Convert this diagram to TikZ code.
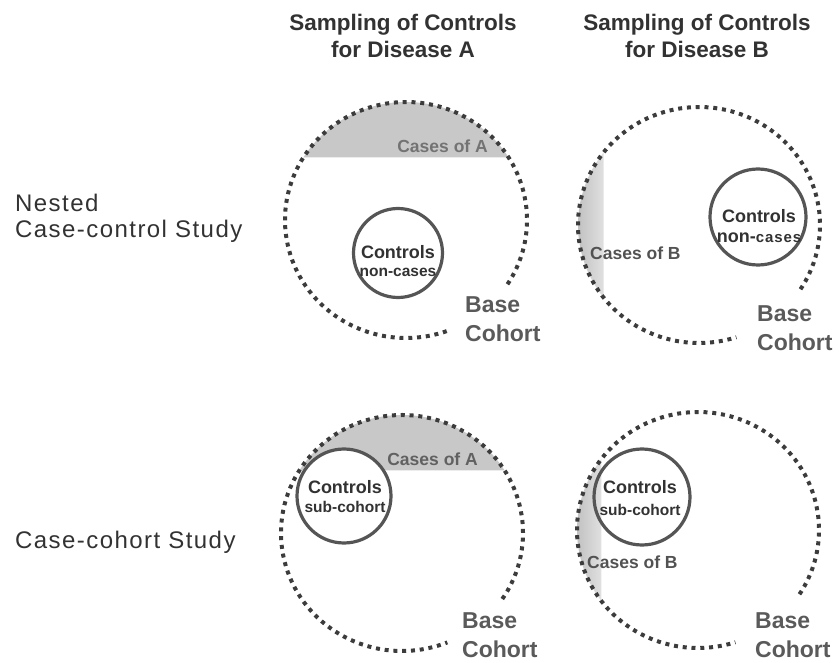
\documentclass[tikz,border=0pt]{standalone}
\usepackage{fontspec}
\setmainfont{Liberation Sans}
\usetikzlibrary{positioning}
\definecolor{inkgray}{RGB}{50, 50, 50}
\definecolor{dotgray}{RGB}{60, 60, 60}
\definecolor{ringgray}{RGB}{85, 85, 85}
\definecolor{basegray}{RGB}{90, 90, 90}
\definecolor{shadegray}{RGB}{200, 200, 200}

\begin{document}
\begin{tikzpicture}[x=1pt, y=1pt,
    header/.style={font=\bfseries\fontsize{22.5}{27}\selectfont, align=center,
                   text=inkgray, anchor=base, inner sep=0pt},
    rowlabel/.style={font=\fontsize{24}{26}\selectfont\addfontfeatures{LetterSpace=6},
                     align=left, text=inkgray, anchor=base west, inner sep=0pt},
    cohort/.style={draw=dotgray, line width=4pt, dash pattern=on 4pt off 4.8pt},
    caseshade/.style={fill=shadegray},
    ctrl/.style={draw=ringgray, line width=3.2pt, circle, inner sep=0pt, fill=white},
    ctrltext/.style={font=\bfseries\fontsize{18}{18}\selectfont, align=center,
                     text=inkgray, anchor=base, inner sep=0pt},
    casetext/.style={font=\bfseries\fontsize{17.5}{20}\selectfont, inner sep=0pt},
    basetext/.style={font=\bfseries\fontsize{23}{29}\selectfont, align=left,
                     text=basegray, anchor=base west, inner sep=0pt},
]
    \useasboundingbox (0,0) rectangle (839,-663);

    % centres of the base cohorts
    \coordinate (cA) at (406,-220);
    \coordinate (cB) at (699,-225);
    \coordinate (cC) at (402,-533);
    \coordinate (cD) at (698,-530);

    % column and row titles
    \node[header] (hA) at (403,-58) {Sampling of Controls\\for Disease A};
    \node[header] (hB) at (697,-58) {Sampling of Controls\\for Disease B};
    \node[rowlabel] (nested) at (15,-238) {Nested\\Case-control Study};
    \node[rowlabel] (cohortstudy) at (15,-548) {Case-cohort Study};

    % nested, disease A
    \fill[caseshade] ([shift={(32:121 and 118)}]cA)
        arc[start angle=32, end angle=148, x radius=121, y radius=118] -- cycle;
    \draw[cohort] ([shift={(-33:121 and 118)}]cA)
        arc[start angle=-33, end angle=290, x radius=121, y radius=118];
    \node[ctrl, minimum size=89pt] (ctrlA) at (398,-253) {};
    \node[ctrltext] (ctrlAtxt) at (398,-277) {Controls\\{\fontsize{15.5}{18}\selectfont non-cases}};
    \node[casetext, text=black!55, anchor=base east] (casesA) at (488,-153) {Cases of A};
    \node[basetext] (baseA) at (465,-342) {Base\\Cohort};

    % nested, disease B
    \shade[left color=black!28, right color=black!12] ([shift={(142:121 and 118)}]cB)
        arc[start angle=142, end angle=218, x radius=121, y radius=118] -- cycle;
    \draw[cohort] ([shift={(-33:121 and 118)}]cB)
        arc[start angle=-33, end angle=288, x radius=121, y radius=118];
    \node[ctrl, minimum size=96pt] (ctrlB) at (758,-217) {};
    \node[ctrltext] (ctrlBtxt) at (759,-243)
        {Controls\\[2pt]{\fontsize{18}{18}\selectfont non-}{\fontsize{15}{18}\selectfont\addfontfeatures{LetterSpace=6}cases}};
    \node[casetext, text=black!68, anchor=base west] (casesB) at (590,-260) {Cases of B};
    \node[basetext] (baseB) at (757,-351) {Base\\Cohort};

    % case-cohort, disease A
    \fill[caseshade] ([shift={(32:121 and 118)}]cC)
        arc[start angle=32, end angle=148, x radius=121, y radius=118] -- cycle;
    \draw[cohort] ([shift={(-34:121 and 118)}]cC)
        arc[start angle=-34, end angle=292, x radius=121, y radius=118];
    \node[ctrl, minimum size=94pt] (ctrlC) at (344,-496) {};
    \node[ctrltext] (ctrlCtxt) at (345,-512) {Controls\\[1pt]{\fontsize{15.5}{19}\selectfont sub-cohort}};
    \node[casetext, text=black!62, anchor=base east] (casesC) at (478,-465) {Cases of A};
    \node[basetext] (baseC) at (462,-657) {Base\\Cohort};

    % case-cohort, disease B
    \shade[left color=black!28, right color=black!12] ([shift={(143:121 and 118)}]cD)
        arc[start angle=143, end angle=217, x radius=121, y radius=118] -- cycle;
    \draw[cohort] ([shift={(-33:121 and 118)}]cD)
        arc[start angle=-33, end angle=288, x radius=121, y radius=118];
    \node[ctrl, minimum size=96pt, fill=none] (ctrlD) at (642,-497) {};
    \node[ctrltext] (ctrlDtxt) at (640,-515) {Controls\\[4pt]{\fontsize{15.5}{20}\selectfont sub-cohort}};
    \node[casetext, text=black!68, anchor=base west] (casesD) at (587,-568) {Cases of B};
    \node[basetext] (baseD) at (755,-657) {Base\\Cohort};
\end{tikzpicture}
\end{document}
